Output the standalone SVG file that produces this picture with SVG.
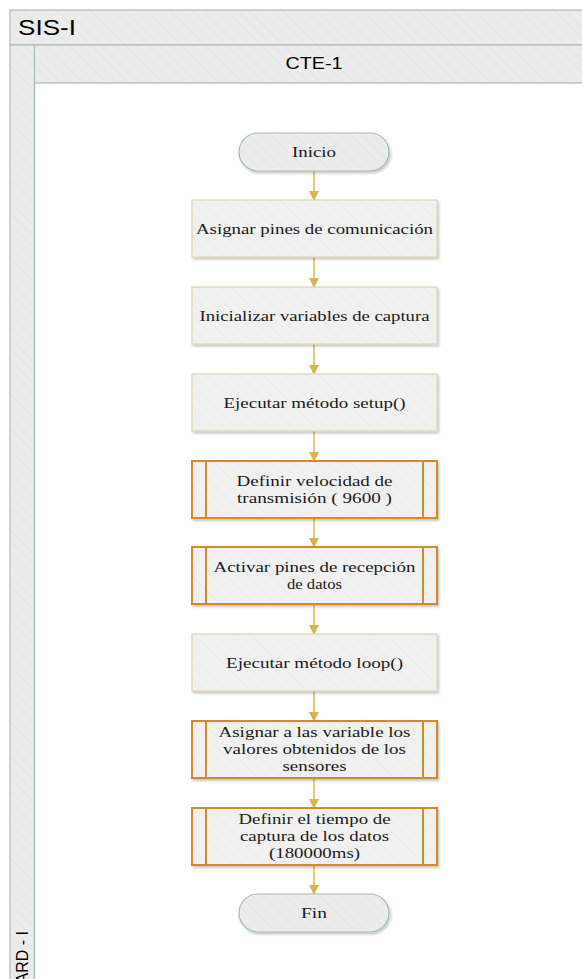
<svg xmlns="http://www.w3.org/2000/svg" width="582" height="979" viewBox="0 0 582 979">
<style>
.hdr{fill:url(#hatch);stroke:#a9bdb6;stroke-width:1.2}
.term{fill:url(#hatch);stroke:#9fbdb1;stroke-width:1.2;filter:url(#sh)}
.proc{fill:url(#hatch2);stroke:#ddd3b0;stroke-width:1.2;filter:url(#sh)}
.sub{fill:url(#hatch2);stroke:#d58a2a;stroke-width:2;filter:url(#sh)}
.subl{stroke:#d58a2a;stroke-width:2}
.t{font-family:"Liberation Serif","Times New Roman",serif;font-size:15.5px;fill:#1a1a1a;text-anchor:middle}
.s{font-family:"Liberation Sans",Arial,sans-serif;fill:#000}
.c{stroke:#d6b54e;stroke-width:1.4;fill:none;marker-end:url(#ah)}
</style>
<defs>
<pattern id="hatch" width="8" height="8" patternUnits="userSpaceOnUse" patternTransform="rotate(-45)">
<rect width="8" height="8" fill="#ececec"/>
<line x1="0" y1="0" x2="0" y2="8" stroke="#e3e3e3" stroke-width="1.5"/>
</pattern>
<pattern id="hatch2" width="8" height="8" patternUnits="userSpaceOnUse" patternTransform="rotate(-45)">
<rect width="8" height="8" fill="#f1f1f1"/>
<line x1="0" y1="0" x2="0" y2="8" stroke="#e9e9e9" stroke-width="1.5"/>
</pattern>
<marker id="ah" markerWidth="10" markerHeight="10" refX="9" refY="5" orient="auto" markerUnits="userSpaceOnUse">
<path d="M0,0 L10,5 L0,10 Z" fill="#d6b54e"/>
</marker>
<filter id="sh" x="-10%" y="-10%" width="130%" height="140%">
<feDropShadow dx="1.5" dy="2" stdDeviation="1.2" flood-color="#000" flood-opacity="0.22"/>
</filter>
</defs>
<rect width="582" height="979" fill="#ffffff"/>
<g id="pool">
<rect class="hdr" x="10" y="10" width="600" height="35"/>
<rect class="hdr" x="10" y="45" width="24.5" height="950"/>
<text class="s" x="18" y="35" font-size="22" textLength="58" lengthAdjust="spacingAndGlyphs">SIS-I</text>
<text class="s" transform="translate(28,931) rotate(-90)" font-size="16" text-anchor="end">ARD - I</text>
</g>
<g id="lane">
<rect class="hdr" x="34.5" y="45" width="580" height="38"/>
<text class="s" x="314" y="69" font-size="16" text-anchor="middle" textLength="57" lengthAdjust="spacingAndGlyphs">CTE-1</text>
<line x1="34.5" y1="83" x2="34.5" y2="979" stroke="#a9bdb6" stroke-width="1.2"/>
</g>
<g id="connectors">
<line class="c" x1="314" y1="171" x2="314" y2="200"/>
<line class="c" x1="314" y1="257" x2="314" y2="287"/>
<line class="c" x1="314" y1="344" x2="314" y2="374"/>
<line class="c" x1="314" y1="431" x2="314" y2="461"/>
<line class="c" x1="314" y1="518" x2="314" y2="547"/>
<line class="c" x1="314" y1="604" x2="314" y2="634"/>
<line class="c" x1="314" y1="691" x2="314" y2="721"/>
<line class="c" x1="314" y1="778" x2="314" y2="808"/>
<line class="c" x1="314" y1="865" x2="314" y2="894"/>
</g>
<g id="inicio">
<rect class="term" x="239" y="133" width="150" height="38" rx="19"/>
<text class="t" x="314" y="157" textLength="44" lengthAdjust="spacingAndGlyphs">Inicio</text>
</g>
<g id="n1">
<rect class="proc" x="192" y="200" width="245" height="57"/>
<text class="t" x="314.5" y="234" textLength="237" lengthAdjust="spacingAndGlyphs">Asignar pines de comunicación</text>
</g>
<g id="n2">
<rect class="proc" x="192" y="287" width="245" height="57"/>
<text class="t" x="314.5" y="321" textLength="230" lengthAdjust="spacingAndGlyphs">Inicializar variables de captura</text>
</g>
<g id="n3">
<rect class="proc" x="192" y="374" width="245" height="57"/>
<text class="t" x="314.5" y="408" textLength="182" lengthAdjust="spacingAndGlyphs">Ejecutar método setup()</text>
</g>
<g id="n4">
<rect class="sub" x="192" y="461" width="245" height="57"/>
<line class="subl" x1="206" y1="461" x2="206" y2="518"/>
<line class="subl" x1="423" y1="461" x2="423" y2="518"/>
<text class="t" x="314.5" y="486" textLength="156" lengthAdjust="spacingAndGlyphs">Definir velocidad de</text>
<text class="t" x="314.5" y="503" textLength="155" lengthAdjust="spacingAndGlyphs">transmisión ( 9600 )</text>
</g>
<g id="n5">
<rect class="sub" x="192" y="547" width="245" height="57"/>
<line class="subl" x1="206" y1="547" x2="206" y2="604"/>
<line class="subl" x1="423" y1="547" x2="423" y2="604"/>
<text class="t" x="314.5" y="572" textLength="202" lengthAdjust="spacingAndGlyphs">Activar pines de recepción</text>
<text class="t" x="314.5" y="589" textLength="55" lengthAdjust="spacingAndGlyphs">de datos</text>
</g>
<g id="n6">
<rect class="proc" x="192" y="634" width="245" height="57"/>
<text class="t" x="314.5" y="668" textLength="177" lengthAdjust="spacingAndGlyphs">Ejecutar método loop()</text>
</g>
<g id="n7">
<rect class="sub" x="192" y="721" width="245" height="57"/>
<line class="subl" x1="206" y1="721" x2="206" y2="778"/>
<line class="subl" x1="423" y1="721" x2="423" y2="778"/>
<text class="t" x="314.5" y="737" textLength="192" lengthAdjust="spacingAndGlyphs">Asignar a las variable los</text>
<text class="t" x="314.5" y="754" textLength="183" lengthAdjust="spacingAndGlyphs">valores obtenidos de los</text>
<text class="t" x="314.5" y="771" textLength="64" lengthAdjust="spacingAndGlyphs">sensores</text>
</g>
<g id="n8">
<rect class="sub" x="192" y="808" width="245" height="57"/>
<line class="subl" x1="206" y1="808" x2="206" y2="865"/>
<line class="subl" x1="423" y1="808" x2="423" y2="865"/>
<text class="t" x="314.5" y="824" textLength="152" lengthAdjust="spacingAndGlyphs">Definir el tiempo de</text>
<text class="t" x="314.5" y="841" textLength="149" lengthAdjust="spacingAndGlyphs">captura de los datos</text>
<text class="t" x="314.5" y="858" textLength="91" lengthAdjust="spacingAndGlyphs">(180000ms)</text>
</g>
<g id="fin">
<rect class="term" x="239" y="894" width="150" height="38" rx="19"/>
<text class="t" x="314" y="918" textLength="26" lengthAdjust="spacingAndGlyphs">Fin</text>
</g>
</svg>
